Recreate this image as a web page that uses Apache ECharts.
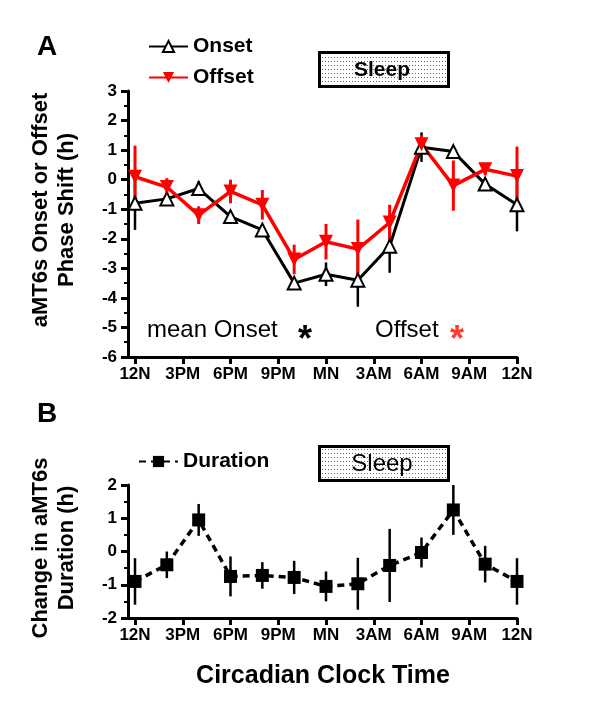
<!DOCTYPE html>
<html>
<head>
<meta charset="utf-8">
<script src="https://cdn.jsdelivr.net/npm/echarts@6/dist/echarts.min.js"></script>
<style>
  html, body { margin: 0; padding: 0; background: #fff; }
  #chart { width: 600px; height: 723px; }
</style>
</head>
<body>
<div id="chart"></div>
<script>
// sampling times, hours after 12 noon
const hours = [0, 2, 4, 6, 8, 10, 12, 14, 16, 18, 20, 22, 24];
const tickHours = [0, 3, 6, 9, 12, 15, 18, 21, 24];
const tickLabels = ['12N', '3PM', '6PM', '9PM', 'MN', '3AM', '6AM', '9AM', '12N'];

// panel A: phase shift (h)
const onset = [-0.8, -0.65, -0.3, -1.25, -1.7, -3.5, -3.2, -3.4, -2.25, 1.1, 0.95, -0.15, -0.85];
const onsetErr = [0.9, 0.2, 0.25, 0.15, 0.15, 0.1, 0.4, 0.9, 0.9, 0.5, 0.15, 0.2, 0.9];
const offset = [0.1, -0.25, -1.2, -0.4, -0.85, -2.7, -2.1, -2.35, -1.45, 1.2, -0.2, 0.35, 0.12];
const offsetErr = [1.05, 0.3, 0.3, 0.4, 0.5, 0.5, 0.6, 1.0, 0.6, 0.3, 0.85, 0.2, 1.0];

// panel B: change in duration (h)
const duration = [-0.9, -0.4, 0.95, -0.75, -0.72, -0.78, -1.05, -0.97, -0.42, -0.03, 1.25, -0.38, -0.9];
const durationErr = [0.7, 0.4, 0.48, 0.6, 0.4, 0.5, 0.45, 0.78, 1.1, 0.45, 0.75, 0.55, 0.7];

const FONT = "'Liberation Sans', Arial, Helvetica, sans-serif";
const xMin = -0.44;

// dotted fill for the Sleep boxes
const dots = document.createElement('canvas');
dots.width = 3;
dots.height = 4;
const dctx = dots.getContext('2d');
dctx.fillStyle = '#fff';
dctx.fillRect(0, 0, 3, 4);
dctx.fillStyle = '#666';
dctx.fillRect(1, 1, 1, 1);

function xAxisOf(gridIndex) {
  return {
    type: 'value',
    gridIndex: gridIndex,
    min: xMin,
    max: 24,
    axisLine: { show: true, onZero: false, lineStyle: { color: '#000', width: 3 } },
    axisTick: { show: true, customValues: tickHours, length: 7, lineStyle: { color: '#000', width: 3 } },
    axisLabel: {
      customValues: tickHours,
      formatter: (v) => tickLabels[tickHours.indexOf(v)],
      color: '#000',
      fontSize: 17,
      fontWeight: 'bold',
      fontFamily: FONT,
      margin: 9,
    },
    splitLine: { show: false },
  };
}

function yAxisOf(gridIndex, min, max) {
  return {
    type: 'value',
    gridIndex: gridIndex,
    min: min,
    max: max,
    interval: 1,
    axisLine: { show: true, onZero: false, lineStyle: { color: '#000', width: 3 } },
    axisTick: { show: true, length: 7, lineStyle: { color: '#000', width: 3 } },
    minorTick: { show: true, splitNumber: 2, length: 4, lineStyle: { color: '#000', width: 2 } },
    axisLabel: { color: '#000', fontSize: 17, fontWeight: 'bold', fontFamily: FONT, margin: 11 },
    splitLine: { show: false },
    minorSplitLine: { show: false },
  };
}

// vertical error bars (no caps)
function errorSeries(name, axisIndex, values, errs, color, width) {
  return {
    name: name,
    type: 'custom',
    xAxisIndex: axisIndex,
    yAxisIndex: axisIndex,
    clip: false,
    data: hours.map((h, i) => [h, values[i] - errs[i], values[i] + errs[i]]),
    renderItem: function (params, api) {
      const lo = api.coord([api.value(0), api.value(1)]);
      const hi = api.coord([api.value(0), api.value(2)]);
      return {
        type: 'line',
        shape: { x1: lo[0], y1: lo[1], x2: hi[0], y2: hi[1] },
        style: { stroke: color, lineWidth: width },
      };
    },
  };
}

function sleepBox(top, bold, size) {
  return {
    type: 'group',
    children: [
      {
        type: 'rect',
        shape: { x: 319.5, y: top + 0.5, width: 129, height: 34 },
        style: { fill: { image: dots, repeat: 'repeat' }, stroke: '#000', lineWidth: 3 },
      },
      {
        type: 'text',
        x: 382,
        y: top + 18,
        style: {
          text: 'Sleep',
          font: (bold ? 'bold ' : '') + size + 'px ' + FONT,
          fill: '#000',
          align: 'center',
          verticalAlign: 'middle',
        },
      },
    ],
  };
}

function label(text, x, y, font, color, rotation, align) {
  return {
    type: 'text',
    x: x,
    y: y,
    rotation: rotation || 0,
    style: {
      text: text,
      font: font,
      fill: color || '#000',
      align: align || 'center',
      verticalAlign: 'middle',
    },
  };
}

const chart = echarts.init(document.getElementById('chart'));

const legendText = { color: '#000', fontSize: 21, fontWeight: 'bold', fontFamily: FONT, lineHeight: 21 };

const option = {
  animation: false,
  backgroundColor: '#fff',
  grid: [
    { left: 128, top: 91, width: 389, height: 266 },
    { left: 128, top: 485, width: 389, height: 133 },
  ],
  xAxis: [xAxisOf(0), xAxisOf(1)],
  yAxis: [yAxisOf(0, -6, 3), yAxisOf(1, -2, 2)],
  legend: [
    {
      data: ['Onset', 'Offset'],
      orient: 'vertical',
      left: 148,
      top: 36,
      padding: 0,
      itemWidth: 39,
      itemHeight: 14,
      itemGap: 10,
      selectedMode: false,
      textStyle: legendText,
    },
    {
      data: ['Duration'],
      left: 138,
      top: 451,
      padding: 0,
      itemWidth: 39,
      itemHeight: 14,
      selectedMode: false,
      textStyle: legendText,
    },
  ],
  graphic: [
    label('A', 47, 47, 'bold 28px ' + FONT),
    label('B', 47, 414, 'bold 28px ' + FONT),
    label('aMT6s Onset or Offset', 41, 210, 'bold 22px ' + FONT, '#000', Math.PI / 2),
    label('Phase Shift (h)', 67, 210, 'bold 22px ' + FONT, '#000', Math.PI / 2),
    label('Change in aMT6s', 41, 548, 'bold 22px ' + FONT, '#000', Math.PI / 2),
    label('Duration (h)', 67, 548, 'bold 22px ' + FONT, '#000', Math.PI / 2),
    label('Circadian Clock Time', 323, 676, 'bold 25px ' + FONT),
    label('mean Onset', 147, 330, '24px ' + FONT, '#000', 0, 'left'),
    label('*', 305, 341, 'bold 36px ' + FONT, '#000'),
    label('Offset', 375, 330, '24px ' + FONT, '#000', 0, 'left'),
    label('*', 457, 341, 'bold 36px ' + FONT, '#ff3b2f'),
    sleepBox(52, true, 21),
    sleepBox(446, false, 24),
  ],
  series: [
    errorSeries('Onset SEM', 0, onset, onsetErr, '#000', 2.5),
    {
      name: 'Onset',
      type: 'line',
      xAxisIndex: 0,
      yAxisIndex: 0,
      data: hours.map((h, i) => [h, onset[i]]),
      symbol: 'triangle',
      symbolSize: 13,
      showAllSymbol: true,
      lineStyle: { color: '#000', width: 3 },
      itemStyle: { color: '#fff', borderColor: '#000', borderWidth: 2 },
    },
    errorSeries('Offset SEM', 0, offset, offsetErr, '#ff0000', 3),
    {
      name: 'Offset',
      type: 'line',
      xAxisIndex: 0,
      yAxisIndex: 0,
      data: hours.map((h, i) => [h, offset[i]]),
      symbol: 'triangle',
      symbolRotate: 180,
      symbolSize: 14,
      showAllSymbol: true,
      lineStyle: { color: '#ff0000', width: 3.5 },
      itemStyle: { color: '#ff0000' },
    },
    errorSeries('Duration SEM', 1, duration, durationErr, '#000', 2.5),
    {
      name: 'Duration',
      type: 'line',
      xAxisIndex: 1,
      yAxisIndex: 1,
      data: hours.map((h, i) => [h, duration[i]]),
      symbol: 'rect',
      symbolSize: 13,
      showAllSymbol: true,
      lineStyle: { color: '#000', width: 3.5, type: [7, 5] },
      itemStyle: { color: '#000' },
    },
  ],
};

chart.setOption(option);
</script>
</body>
</html>
